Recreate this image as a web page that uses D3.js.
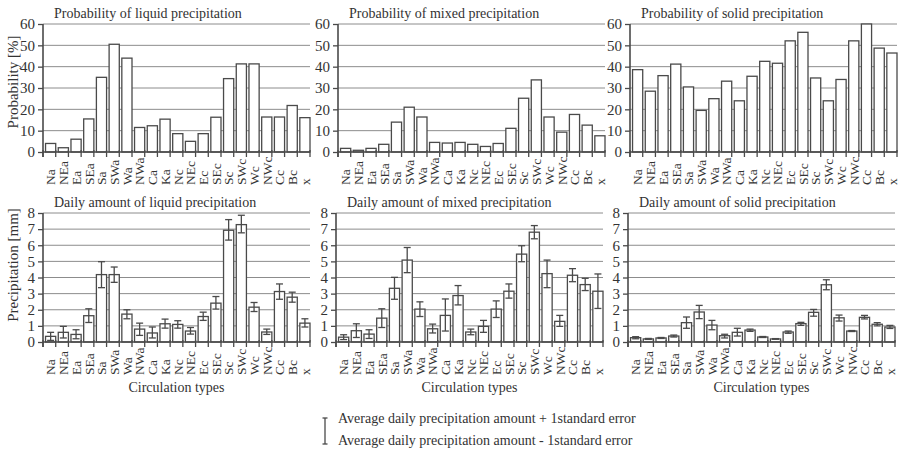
<!DOCTYPE html>
<html>
<head>
<meta charset="utf-8">
<script src="https://cdn.jsdelivr.net/npm/d3@7"></script>
<style>
  body { margin: 0; background: #fff; }
</style>
</head>
<body>
<svg id="chart"></svg>
<script>
const categories = ["Na", "NEa", "Ea", "SEa", "Sa", "SWa", "Wa", "NWa", "Ca", "Ka", "Nc",
    "NEc", "Ec", "SEc", "Sc", "SWc", "Wc", "NWc", "Cc", "Bc", "x"];

// probability of precipitation [%]
const probLiquid = [4, 2, 6, 15.5, 35, 50.5, 44, 11.5, 12.3, 15.4, 8.6, 5, 8.6, 16.3, 34.4, 41.3, 41.3, 16.4, 16.4, 21.8, 16.1];
const probMixed = [1.7, 0.8, 1.7, 3.6, 14, 21, 16.4, 4.5, 4.2, 4.5, 3.6, 2.6, 4, 11.1, 25.2, 33.8, 16.4, 9.3, 17.6, 12.6, 7.6];
const probSolid = [38.6, 28.5, 35.8, 41.2, 30.5, 19.5, 25, 33.2, 24, 35.5, 42.5, 41.6, 52.1, 56.1, 34.7, 24, 34, 52.1, 60, 48.7, 46.4];

// daily amount [mm], mean and mean +/- 1 standard error
const amountLiquid = [0.35, 0.6, 0.47, 1.63, 4.18, 4.18, 1.73, 0.8, 0.56, 1.13, 1.09, 0.68, 1.58, 2.41, 6.93, 7.28, 2.16, 0.62, 3.13, 2.78, 1.17];
const amountLiquidUp = [0.6, 0.97, 0.76, 2.06, 4.98, 4.65, 2.0, 1.17, 0.93, 1.42, 1.32, 0.9, 1.85, 2.82, 7.59, 7.86, 2.45, 0.8, 3.6, 3.09, 1.44];
const amountLiquidLow = [0.1, 0.25, 0.2, 1.21, 3.37, 3.7, 1.44, 0.41, 0.25, 0.86, 0.86, 0.49, 1.34, 2.04, 6.32, 6.77, 1.89, 0.47, 2.65, 2.47, 0.93];

const amountMixed = [0.3, 0.7, 0.49, 1.48, 3.33, 5.08, 2.04, 0.82, 1.65, 2.88, 0.62, 0.97, 2.04, 3.15, 5.45, 6.81, 4.24, 1.28, 4.14, 3.56, 3.15];
const amountMixedUp = [0.45, 1.13, 0.76, 2.06, 4.01, 5.86, 2.49, 1.11, 2.67, 3.5, 0.8, 1.34, 2.55, 3.6, 5.97, 7.22, 5.08, 1.65, 4.55, 3.95, 4.22];
const amountMixedLow = [0.15, 0.28, 0.22, 0.9, 2.65, 4.3, 1.58, 0.56, 0.68, 2.3, 0.45, 0.6, 1.52, 2.72, 4.98, 6.4, 3.37, 0.97, 3.74, 3.19, 2.08];

const amountSolid = [0.27, 0.19, 0.25, 0.37, 1.2, 1.86, 1.05, 0.39, 0.6, 0.74, 0.31, 0.19, 0.62, 1.14, 1.84, 3.55, 1.5, 0.68, 1.53, 1.1, 0.93];
const amountSolidUp = [0.33, 0.22, 0.28, 0.43, 1.55, 2.27, 1.34, 0.48, 0.85, 0.8, 0.34, 0.21, 0.68, 1.22, 2.02, 3.86, 1.67, 0.71, 1.65, 1.2, 1.03];
const amountSolidLow = [0.2, 0.16, 0.22, 0.31, 0.85, 1.45, 0.76, 0.25, 0.37, 0.66, 0.28, 0.17, 0.54, 1.03, 1.6, 3.24, 1.3, 0.65, 1.43, 1.0, 0.84];

const probTicks = [0, 10, 20, 30, 40, 50, 60];
const amountTicks = [0, 1, 2, 3, 4, 5, 6, 7, 8];

const legendLabels = ["Average daily precipitation amount + 1standard error",
    "Average daily precipitation amount - 1standard error"];

const width = 898, height = 451;
const plotW = 267;
const lineColor = "#4a4a4a";
const serif = "'Liberation Serif', 'Times New Roman', 'DejaVu Serif', serif";

const svg = d3.select("#chart").attr("width", width).attr("height", height)
    .attr("font-family", serif);

const rows = [
    {top: 24, h: 128, ticks: probTicks, yTitle: "Probability [%]", yTitleAt: 82,
        panels: [
            {left: 43, title: "Probability of liquid precipitation", values: probLiquid},
            {left: 338, title: "Probability of mixed precipitation", values: probMixed},
            {left: 630, title: "Probability of solid precipitation", values: probSolid}
        ]},
    {top: 213, h: 129, ticks: amountTicks, yTitle: "Precipitation [mm]", yTitleAt: 265, xTitle: "Circulation types",
        panels: [
            {left: 43, title: "Daily amount of liquid precipitation", values: amountLiquid, up: amountLiquidUp, low: amountLiquidLow},
            {left: 336, title: "Daily amount of mixed precipitation", values: amountMixed, up: amountMixedUp, low: amountMixedLow},
            {left: 628, title: "Daily amount of solid precipitation", values: amountSolid, up: amountSolidUp, low: amountSolidLow}
        ]}
];

function drawPanel(row, p) {
    const g = svg.append("g").attr("transform", `translate(${p.left},${row.top})`);
    const x = d3.scaleBand().domain(categories).range([0, plotW])
        .paddingInner(0.2).paddingOuter(0.1).align(1);
    const y = d3.scaleLinear().domain(d3.extent(row.ticks)).range([row.h, 0]);

    // gridlines
    g.selectAll(".grid").data(row.ticks.slice(1)).enter().append("line")
        .attr("x1", 0).attr("x2", plotW)
        .attr("y1", d => y(d)).attr("y2", d => y(d))
        .attr("stroke", "#8c8c8c").attr("stroke-width", 1);

    // y axis
    const yAxis = g.append("g")
        .call(d3.axisLeft(y).tickValues(row.ticks).tickSize(5).tickPadding(3))
        .attr("font-family", serif).attr("font-size", 15);
    yAxis.select(".domain").attr("stroke", lineColor).attr("stroke-width", 1.6).attr("d", `M0,${row.h + 5}V0`);
    yAxis.selectAll(".tick line").attr("stroke", lineColor).attr("stroke-width", 1.3);
    yAxis.selectAll("text").attr("fill", "#333");

    // bars
    g.selectAll(".bar").data(p.values).enter().append("rect")
        .attr("x", (d, i) => x(categories[i]))
        .attr("y", d => y(d))
        .attr("width", x.bandwidth())
        .attr("height", d => row.h - y(d))
        .attr("fill", "#fff").attr("stroke", lineColor).attr("stroke-width", 1.3);

    // error bars
    if (p.up) {
        const cx = i => x(categories[i]) + x.bandwidth() / 2;
        const eb = g.selectAll(".err").data(p.values).enter().append("g")
            .attr("stroke", lineColor).attr("stroke-width", 1.3);
        eb.append("line").attr("x1", (d, i) => cx(i)).attr("x2", (d, i) => cx(i))
            .attr("y1", (d, i) => y(p.low[i])).attr("y2", (d, i) => y(p.up[i]));
        eb.append("line").attr("x1", (d, i) => cx(i) - 3.5).attr("x2", (d, i) => cx(i) + 3.5)
            .attr("y1", (d, i) => y(p.up[i])).attr("y2", (d, i) => y(p.up[i]));
        eb.append("line").attr("x1", (d, i) => cx(i) - 3.5).attr("x2", (d, i) => cx(i) + 3.5)
            .attr("y1", (d, i) => y(p.low[i])).attr("y2", (d, i) => y(p.low[i]));
    }

    // x axis with ticks between categories
    const bounds = [0].concat(categories.map(c => x(c) + x.bandwidth()));
    g.append("line").attr("x1", 0).attr("x2", plotW).attr("y1", row.h).attr("y2", row.h)
        .attr("stroke", lineColor).attr("stroke-width", 1.6);
    g.selectAll(".xtick").data(bounds).enter().append("line")
        .attr("x1", d => d).attr("x2", d => d)
        .attr("y1", row.h - 2).attr("y2", row.h + 5)
        .attr("stroke", lineColor).attr("stroke-width", 1.3);
    // labels read upwards, all starting from a common bottom line
    g.selectAll(".xlabel").data(categories).enter().append("text")
        .attr("transform", d => `translate(${x(d) + x.bandwidth() / 2},${row.h + 33}) rotate(-90)`)
        .attr("text-anchor", "start").attr("dy", "0.35em")
        .attr("font-size", 13.5).attr("fill", "#333")
        .text(d => d);

    // panel title
    g.append("text").attr("x", 11).attr("y", -6).attr("font-size", 14).attr("fill", "#333").text(p.title);

    if (row.xTitle) {
        g.append("text").attr("x", plotW / 2).attr("y", row.h + 50)
            .attr("text-anchor", "middle").attr("font-size", 14).attr("fill", "#333").text(row.xTitle);
    }
}

rows.forEach(row => {
    row.panels.forEach(p => drawPanel(row, p));
    svg.append("text")
        .attr("transform", `translate(13,${row.yTitleAt}) rotate(-90)`)
        .attr("text-anchor", "middle").attr("dy", "0.35em")
        .attr("font-size", 15).attr("fill", "#333").text(row.yTitle);
});

// legend
const legend = svg.append("g").attr("transform", "translate(325,418)");
legend.append("g").attr("stroke", lineColor).attr("stroke-width", 1.3)
    .call(s => {
        s.append("line").attr("x1", 0).attr("x2", 0).attr("y1", 0).attr("y2", 26);
        s.append("line").attr("x1", -2.5).attr("x2", 2.5).attr("y1", 0).attr("y2", 0);
        s.append("line").attr("x1", -2.5).attr("x2", 2.5).attr("y1", 26).attr("y2", 26);
    });
legend.selectAll(".lt").data(legendLabels).enter().append("text")
    .attr("x", 13).attr("y", (d, i) => 5 + i * 22)
    .attr("font-size", 14).attr("fill", "#333").text(d => d);
</script>
</body>
</html>
